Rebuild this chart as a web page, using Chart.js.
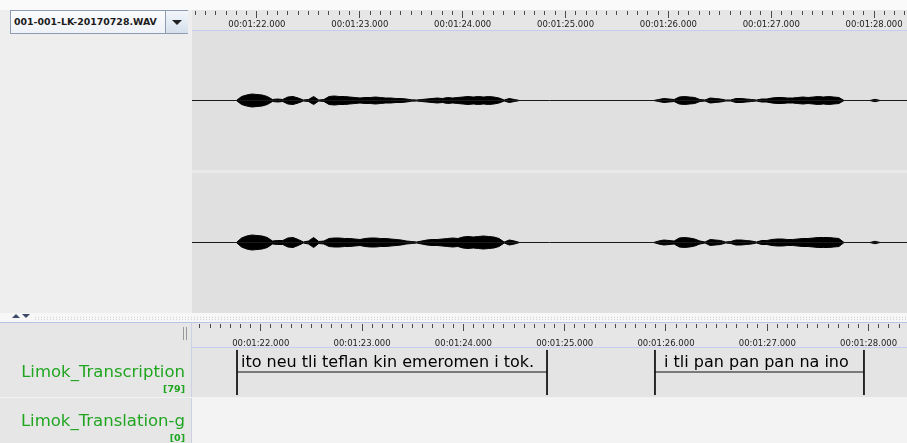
<!DOCTYPE html>
<html>
<head>
<meta charset="utf-8">
<script src="https://cdn.jsdelivr.net/npm/chart.js@4.4.1/dist/chart.umd.min.js"></script>
<style>
  body { margin: 0; width: 907px; height: 443px; overflow: hidden; position: relative; background: #fafafa; font-family: "DejaVu Sans", sans-serif; }
  .abs { position: absolute; }
  .box { position: absolute; }
  .box canvas { display: block; }
  .tierName { position: absolute; right: 722px; color: #1fa51f; font-size: 16.5px; white-space: nowrap; }
  .tierCount { position: absolute; right: 722px; color: #1fa51f; font-size: 9.5px; font-weight: bold; }
</style>
</head>
<body>
  <!-- upper panel -->
  <div class="abs" style="left:0;top:10px;width:192px;height:303px;background:#eeeeee"></div>
  <div class="abs" style="left:10px;top:10px;width:176px;height:22px;border:1px solid #8e9bb3;background:linear-gradient(#fbfcfe,#eef1f6)">
    <div class="abs" style="left:3px;top:5px;font-size:9.4px;font-weight:bold;color:#1c1c1c;white-space:nowrap">001-001-LK-20170728.WAV</div>
    <div class="abs" style="left:154px;top:0;width:22px;height:22px;border-left:1px solid #8e9bb3;background:linear-gradient(#f2f6fb,#d5e0ec)">
      <div class="abs" style="left:6px;top:9px;width:0;height:0;border-left:5px solid transparent;border-right:5px solid transparent;border-top:5px solid #222"></div>
    </div>
  </div>
  <div class="box" style="left:192px;top:10px;width:715px;height:21px;background:#e6e6e6"><canvas id="ruler1"></canvas></div>
  <div class="abs" style="left:192px;top:30px;width:715px;height:1px;background:#c6ccef"></div>
  <div class="box" style="left:192px;top:31px;width:715px;height:139px;background:#e0e0e0"><canvas id="wave1"></canvas></div>
  <div class="abs" style="left:192px;top:170px;width:715px;height:3px;background:#e9e9e9"></div>
  <div class="box" style="left:192px;top:173px;width:715px;height:139px;background:#e0e0e0"><canvas id="wave2"></canvas></div>
  <div class="abs" style="left:192px;top:312px;width:715px;height:1px;background:#e0e0e0"></div>

  <!-- divider -->
  <div class="abs" style="left:0;top:313px;width:907px;height:10px;background:#f7f7f7"></div>
  <div class="abs" style="left:34px;top:316px;width:873px;height:5px;background-image:radial-gradient(#c4c4c4 0.7px, transparent 0.9px);background-size:3px 2.5px"></div>
  <div class="abs" style="left:12px;top:314px;width:0;height:0;border-left:4px solid transparent;border-right:4px solid transparent;border-bottom:4px solid #3c4a68"></div>
  <div class="abs" style="left:22px;top:314px;width:0;height:0;border-left:4px solid transparent;border-right:4px solid transparent;border-top:4px solid #3c4a68"></div>
  <div class="abs" style="left:0;top:322px;width:907px;height:1px;background:#b8c2e6"></div>

  <!-- lower panel -->
  <div class="abs" style="left:0;top:323px;width:191px;height:120px;background:#e6e6e6;border-right:1px solid #cdd1e4"></div>
  <div class="abs" style="left:183px;top:327px;width:1px;height:13px;background:#999"></div>
  <div class="abs" style="left:186px;top:327px;width:1px;height:13px;background:#999"></div>
  <div class="box" style="left:192px;top:323px;width:715px;height:24px;background:#e6e6e6"><canvas id="ruler2"></canvas></div>
  <div class="abs" style="left:192px;top:347px;width:715px;height:1px;background:#c6ccef"></div>
  <div class="box" style="left:192px;top:348px;width:715px;height:49px;background:#e4e4e4"><canvas id="tier1"></canvas></div>
  <div class="abs" style="left:0;top:397px;width:907px;height:1px;background:#f2f2f2"></div>
  <div class="abs" style="left:192px;top:398px;width:715px;height:45px;background:#f3f3f3"></div>

  <div class="tierName" style="top:362px">Limok_Transcription</div>
  <div class="tierCount" style="top:383px">[79]</div>
  <div class="tierName" style="top:411px">Limok_Translation-g</div>
  <div class="tierCount" style="top:432px">[0]</div>

<script>
Chart.defaults.font.family = '"DejaVu Sans", sans-serif';
Chart.defaults.animation = false;

// visible time window (seconds)
const tMin = 81.369;
const tMax = 88.311;

// ruler labels
const tickSeconds = [82, 83, 84, 85, 86, 87, 88];
const tickLabels = ['00:01:22.000', '00:01:23.000', '00:01:24.000', '00:01:25.000',
                    '00:01:26.000', '00:01:27.000', '00:01:28.000'];

// waveform envelopes, one value every 0.05 s from segment start
const sampleStep = 0.05;
const segStartA = 81.80;
const segStartB = 85.85;
const segStartC = 87.95;

const ch1A = [0, 4, 5.5, 6.5, 6, 5.5, 4, 1, 1.5, 1, 3.5, 4, 2.5, 0.5, 1, 4, 0.5, 1, 4, 4.5,
              4, 4, 3.5, 3, 2.5, 3, 3, 3.5, 3, 2.5, 2.5, 2, 2, 1.5, 0.7, 0.5, 1, 1.5, 2, 2.5,
              2, 3, 2.5, 3, 3.5, 4, 3.5, 4, 3.5, 4, 3.5, 2.5, 0.5, 2, 1, 0];
const ch2A = [0, 4.5, 6.5, 7.5, 7, 6.5, 5, 1.5, 2, 2, 4.5, 5, 3, 0.5, 1.5, 5, 1, 1.5, 4, 4.5,
              4.5, 4, 4, 3.5, 3, 4, 4.5, 4.5, 4, 4, 3.5, 3, 2.5, 1.5, 1, 0.5, 1.5, 2.5, 3, 3,
              3.5, 4, 4.5, 4, 5.5, 6, 5.5, 6, 6.5, 6, 5.5, 4, 0.5, 2.5, 1.5, 0];
const ch1B = [0, 1, 2, 1.5, 1, 3.5, 4, 3.5, 3, 1, 0.5, 2.5, 2, 1.5, 0.5, 0.5, 2, 2, 1.5, 1,
              0.5, 1.5, 1.5, 2.5, 3, 3, 2.5, 2.5, 3, 3.5, 3, 3.5, 4, 3.5, 4, 3.5, 3, 0];
const ch2B = [0, 1.5, 2.5, 2, 1.5, 4.5, 5, 4.5, 3.5, 1.5, 0.5, 3, 2.5, 2, 0.5, 1, 2.5, 2.5, 2, 1.5,
              0.5, 2, 2, 3, 3.5, 3.5, 3, 3, 3.5, 4, 4, 4.5, 5, 5, 5, 4.5, 4, 0];
const ch1C = [0, 1.2, 0];
const ch2C = [0, 1.2, 0];

// annotations on Limok_Transcription
const annBegin = [81.806, 85.864];
const annEnd = [84.816, 87.893];
const annText = ['ito neu tli teflan kin emeromen i tok.', ' i tli pan pan pan na ino'];

const xScale = {
  type: 'linear', min: tMin, max: tMax, display: false,
};

function rulerChart(id, tickLen, pad) {
  return new Chart(document.getElementById(id), {
    type: 'line',
    data: { datasets: [] },
    options: {
      responsive: true,
      maintainAspectRatio: false,
      layout: { padding: 0 },
      plugins: { legend: { display: false }, tooltip: { enabled: false } },
      scales: {
        x: {
          type: 'linear', position: 'bottom', min: tMin, max: tMax,
          afterBuildTicks: (scale) => {
            const ticks = [];
            for (let k = Math.ceil(tMin * 10); k <= Math.floor(tMax * 10); k++) {
              ticks.push({ value: k / 10 });
            }
            scale.ticks = ticks;
          },
          afterFit: (scale) => { scale.height = scale.chart.height - 1; },
          border: { display: false },
          grid: {
            drawOnChartArea: false,
            tickLength: tickLen,
            tickColor: '#4a4a4a',
            tickWidth: 1,
            tickBorderDash: (ctx) => {
              const v = Math.round(ctx.tick.value * 10);
              return v % 10 === 0 ? [] : [4, 40];
            },
          },
          ticks: {
            autoSkip: false, maxRotation: 0, minRotation: 0, padding: pad,
            color: '#222',
            font: { size: 8.5 },
            callback: (v) => {
              const i = tickSeconds.indexOf(Math.round(v * 10) / 10);
              return i >= 0 ? tickLabels[i] : '';
            },
          },
        },
        y: { display: false, min: 0, max: 1 },
      },
    },
  });
}

function waveChart(id, segments, half) {
  const datasets = [{
    data: [{ x: tMin, y: 0 }, { x: tMax, y: 0 }],
    borderColor: '#1a1a1a', borderWidth: 1, pointRadius: 0, fill: false,
  }];
  segments.forEach(([t0, amps]) => {
    const upper = amps.map((a, i) => ({ x: t0 + i * sampleStep, y: a }));
    const lower = amps.map((a, i) => ({ x: t0 + i * sampleStep, y: -a }));
    datasets.push({ data: upper, borderColor: '#000', backgroundColor: '#000', borderWidth: 1, pointRadius: 0, fill: '+1' });
    datasets.push({ data: lower, borderColor: '#000', borderWidth: 1, pointRadius: 0, fill: false });
  });
  return new Chart(document.getElementById(id), {
    type: 'line',
    data: { datasets },
    options: {
      responsive: true,
      maintainAspectRatio: false,
      layout: { padding: 0 },
      plugins: { legend: { display: false }, tooltip: { enabled: false } },
      scales: {
        x: xScale,
        y: { display: false, min: -half, max: half },
      },
    },
  });
}

const annLabels = {
  id: 'annLabels',
  afterDatasetsDraw(chart) {
    const { ctx, scales: { x, y } } = chart;
    ctx.save();
    ctx.font = '16px "DejaVu Sans"';
    ctx.fillStyle = '#000';
    ctx.textBaseline = 'alphabetic';
    annText.forEach((t, i) => {
      ctx.fillText(t, x.getPixelForValue(annBegin[i]) + 4, y.getPixelForValue(0.61));
    });
    ctx.restore();
  },
};

function tierChart(id) {
  const datasets = annBegin.map((b, i) => ({
    data: [
      { x: b, y: 0.96 }, { x: b, y: 0.04 }, { x: b, y: null },
      { x: b, y: 0.51 }, { x: annEnd[i], y: 0.51 }, { x: annEnd[i], y: null },
      { x: annEnd[i], y: 0.96 }, { x: annEnd[i], y: 0.04 },
    ],
    borderColor: '#111', borderWidth: 1, pointRadius: 0, spanGaps: false, fill: false,
  }));
  return new Chart(document.getElementById(id), {
    type: 'line',
    data: { datasets },
    options: {
      responsive: true,
      maintainAspectRatio: false,
      layout: { padding: 0 },
      plugins: { legend: { display: false }, tooltip: { enabled: false } },
      scales: {
        x: xScale,
        y: { display: false, min: 0, max: 1 },
      },
    },
    plugins: [annLabels],
  });
}

rulerChart('ruler1', 7, 2);
waveChart('wave1', [[segStartA, ch1A], [segStartB, ch1B], [segStartC, ch1C]], 69.5);
waveChart('wave2', [[segStartA, ch2A], [segStartB, ch2B], [segStartC, ch2C]], 69.5);
rulerChart('ruler2', 7, 8);
tierChart('tier1');
</script>
</body>
</html>
